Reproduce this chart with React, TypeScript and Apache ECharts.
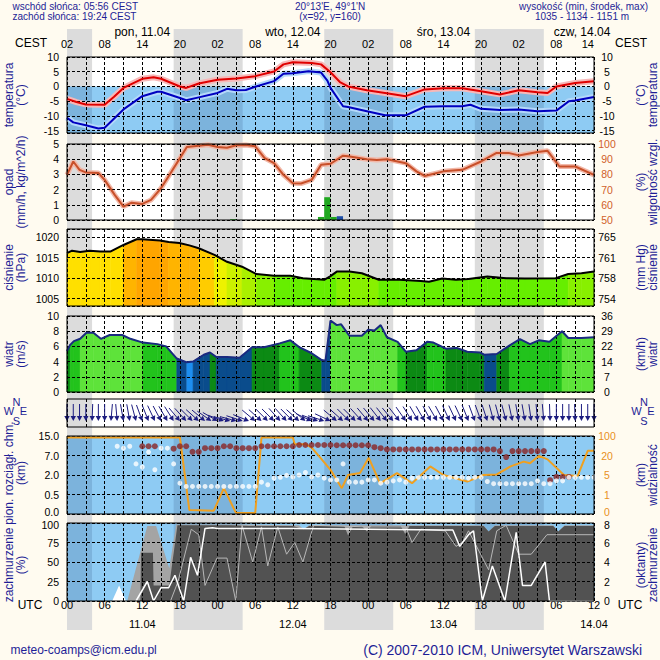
import React, { useEffect, useRef } from "react";
import * as echarts from "echarts";

// ---------------- time frame ----------------
const T_MAX = 84; // hours from 11.04 00 UTC
const cestOffset = 2;
const nightStart = [0, 17, 41, 65];
const nightEnd = [4, 28, 52, 76];
const dayLabels = ["pon, 11.04", "wto, 12.04", "śro, 13.04", "czw, 14.04"];
const dateLabels = ["11.04", "12.04", "13.04", "14.04"];

// ---------------- temperature / dew point (°C) ----------------
const tempH = [0, 1.5, 3, 6, 7.5, 9, 12, 13.8, 15, 18, 19, 21, 24, 27, 30, 33, 34.5, 36, 39, 40.5, 42, 43.5, 44.8, 47.8, 50.7, 54, 57, 60, 63, 66, 69, 72, 75, 76.6, 78, 81, 84];
const tempV = [-4.2, -5.3, -6.1, -6.2, -3.5, -0.5, 2.6, 3.1, 2.6, 0, -0.5, 1, 2.3, 2.7, 3.5, 5.1, 7.5, 8.2, 8, 7.5, 4.8, 1.5, 0, -1.3, -2.2, -3.3, -1, -0.6, -0.6, -1.6, -2.7, -1.3, -2, -2.2, 0, 1.2, 1.8];
const dewH = [0, 1, 3, 5, 6, 9, 12, 14.4, 15, 18, 19, 21, 24, 25.5, 27, 28.5, 30, 33, 34.5, 36, 38.5, 40.5, 41.5, 42, 44, 44.8, 47.8, 50.7, 54, 57, 60, 63, 64.3, 66, 69, 72, 75, 78, 80, 81, 84];
const dewV = [-10.6, -12.2, -13.2, -14.3, -14, -7.8, -3.3, -1.8, -1.8, -3.9, -4.7, -3.7, -2.2, -0.8, -1.3, -1.2, -0.1, 1.8, 4.3, 4.5, 5.2, 4.7, 2, -0.5, -6.7, -7, -8.4, -9.8, -9.8, -6.9, -6.7, -6.7, -6.2, -7.6, -8, -7.8, -8.4, -8.2, -5, -4.8, -3.6];

// ---------------- humidity (%) and precipitation (mm/h) ----------------
const humH = [0, 1, 2, 3, 5, 6, 7.6, 9, 10.3, 12, 13.4, 15, 16.5, 18, 19.1, 21, 22.5, 24, 25.5, 27, 28.5, 30, 31.5, 33, 34.5, 36, 37.3, 39, 40.5, 42, 44, 44.8, 47.8, 49.4, 51, 54, 55.7, 57, 60, 63, 66, 68.4, 70.5, 72, 75, 76.6, 78.5, 81, 84];
const humV = [79.7, 88.5, 83, 81.3, 81, 76.4, 66.5, 58.8, 61.4, 60.6, 63.2, 71, 80.8, 90.7, 98, 98.9, 99.5, 98, 97.5, 99.2, 99.4, 98.5, 90.7, 87.4, 79.7, 74.2, 74, 76.4, 86.3, 87, 92.3, 92, 90, 89.5, 90, 87.4, 82, 79, 82, 83, 88.5, 94, 94, 92.5, 94.7, 95.5, 85.2, 85.2, 79.7];
const rainH = [26, 40, 41, 42];
const rainV = [0.05, 0.2, 1.5, 0.2];
const snowH = [43];
const snowV = [0.25];

// ---------------- pressure (hPa) ----------------
const pressH = [0, 0.8, 2.1, 3.6, 5.3, 6.9, 9, 11.1, 12, 14.8, 16.2, 17.9, 19.5, 21, 23.5, 25.5, 27.9, 30.2, 33, 35.6, 37.6, 41, 42, 43, 45, 47, 49.7, 53, 56.4, 57.7, 59.8, 62, 64, 67, 70, 73, 77.9, 79.9, 82, 84];
const pressV = [1016.1, 1016.7, 1016.4, 1016.7, 1016.5, 1016.5, 1018.1, 1019.5, 1019.5, 1019.2, 1018.8, 1018.6, 1018, 1017.3, 1015.7, 1014, 1012.8, 1011, 1010.6, 1010.6, 1010, 1009.6, 1010.5, 1011.6, 1011.6, 1011.2, 1009.6, 1009.6, 1009.3, 1009.1, 1009.9, 1009.6, 1009.8, 1010.4, 1010, 1009.9, 1010, 1011, 1011.2, 1011.6];
const pressStops = [1011, 1012, 1013, 1015, 1016, 1017, 1018, 1019];
const pressColors = ["#66ee00", "#88f000", "#aaf000", "#ccf000", "#eef200", "#ffe000", "#ffcc00", "#ffb400", "#ffa500"];

// ---------------- wind speed (m/s) ----------------
const windH = [0, 0.5, 1.1, 2.1, 3.1, 4.2, 5.4, 6.8, 8.8, 10.1, 12.1, 14.4, 15.8, 17.5, 19.1, 20.1, 21.8, 22.8, 23.8, 25.5, 27.5, 29.5, 31.4, 33.9, 35.6, 37, 39, 40.6, 41.2, 42, 43, 43.7, 45, 47, 48, 49, 50, 51, 52.7, 54, 55.7, 57.4, 58.4, 60.4, 62.1, 63.8, 65.8, 66.5, 68.5, 70.5, 72.2, 73.8, 75.2, 76.9, 78.9, 79.9, 82, 84];
const windV = [5.4, 6.2, 6.7, 7.0, 7.8, 7.8, 7.0, 7.5, 7.5, 7.0, 6.5, 6.3, 6.0, 4.4, 3.9, 4.0, 4.9, 5.2, 4.6, 4.6, 4.5, 5.9, 5.9, 6.4, 6.8, 5.9, 5.1, 4.2, 4.1, 9.4, 8.8, 8.9, 7.4, 7.4, 8.2, 8.1, 8.8, 7.2, 6.6, 5.3, 5.5, 6.6, 6.5, 5.7, 5.8, 5.3, 5.2, 4.9, 5.0, 6.1, 6.95, 6.3, 6.8, 6.6, 8.0, 7.1, 7.1, 7.2];
const windStops = [4, 5, 6, 7];
const windColors = ["#1e8ef0", "#0a4c8c", "#0c8a14", "#22c31c", "#5ee33a"];

// ---------------- wind direction (deg, from), hourly 0..84 ----------------
const windFrom = [
  0, 0, 0, 0, 2, 0, 0, 5,
  355, 350, 350, 345,
  340, 338, 335, 332, 330, 328,
  320, 318, 315, 312, 310, 305, 300,
  290, 285, 285, 288, 292,
  310, 312, 315, 315, 318, 318, 315, 312, 310,
  295, 290, 288, 295,
  310, 312, 315, 315, 318, 320, 320, 322, 322, 320, 322,
  325, 328, 330, 330, 332, 330, 332, 335, 335, 335,
  338, 340, 340, 342, 345, 345, 345, 348, 350, 350,
  352, 355, 355, 358, 0, 0, 0, 358, 0, 0, 0,
];

// ---------------- cloud base/top (km) and visibility (km) ----------------
const heightTicks = [0, 0.5, 2, 7, 15];
const heightLabels = ["0.0", "0.5", "2.0", "7.0", "15.0"];
const visTicks = [0, 1, 5, 20, 100];
const visLabels = ["0", "1", "5", "20", "100"];
const topH = [12, 13, 14, 17, 18, 19, 20, 21, 22, 23, 24, 25, 26, 27, 28, 29, 30, 31, 32, 33, 34, 35, 36, 37, 38, 39, 40, 41, 42, 43, 44, 45, 46, 47, 48, 49, 50, 51, 52, 53, 54, 55, 56, 57, 58, 59, 60, 61, 62, 63, 64, 65, 66, 67, 68, 69, 70, 71, 72, 73, 74, 75, 76, 77, 78, 79, 80];
const topKm = [10.8, 10.8, 10.8, 9.8, 10.8, 10.8, 8.5, 8.5, 10.0, 10.0, 10.0, 10.8, 10.8, 10.0, 10.0, 10.0, 10.0, 10.8, 10.8, 10.8, 10.8, 10.8, 10.8, 11.3, 11.3, 11.3, 11.3, 11.3, 11.3, 11.2, 11.2, 11.2, 11.2, 11.2, 11.2, 10.4, 10.0, 9.5, 9.5, 9.5, 9.5, 9.5, 9.5, 9.5, 9.5, 9.5, 9.5, 9.5, 9.5, 9.5, 9.5, 9.5, 9.5, 9.5, 9.5, 8.8, 6.6, 8.8, 8.8, 8.8, 8.8, 8.8, 8.8, 1.6, 1.85, 1.85, 1.85];
const baseH = [8, 9, 10, 11, 12, 13, 14, 15, 16, 17, 18, 19, 20, 21, 22, 23, 24, 25, 26, 27, 28, 29, 30, 31, 32, 33, 34, 35, 36, 37, 38, 39, 40, 41, 42, 43, 44, 45, 46, 47, 48, 49, 50, 51, 52, 53, 54, 55, 56, 57, 58, 59, 60, 61, 62, 63, 64, 65, 66, 67, 68, 69, 70, 71, 72, 73, 74, 75, 76, 77, 78, 79, 80, 81, 82, 83, 84];
const baseKm = [10.8, 10.0, 10.8, 4.85, 4.05, 8.4, 3.35, 10.0, 10.0, 4.85, 1.37, 1.12,
  1.12, 1.12, 1.12, 1.12, 1.12, 1.12, 1.12, 1.12, 1.12, 1.12, 1.12,
  1.45, 1.25, 1.76, 1.82, 1.97, 1.85, 2.0, 2.65, 1.85, 2.0, 1.76, 1.62,
  1.62, 4.85, 1.45, 1.45, 1.45, 1.62, 1.62, 1.37, 1.45, 1.55, 1.62, 1.45, 1.76,
  1.82, 1.82, 1.82, 1.82, 1.82, 1.82, 1.82, 1.82, 1.76, 1.82, 1.82,
  1.5, 1.33, 1.33, 1.33, 1.33, 1.33, 1.33, 1.33, 1.55, 1.33, 1.33, 1.55, 1.55, 1.82, 1.82, 1.82, 1.82, 1.82];
const visH = [0, 18, 19.5, 21, 23.4, 25, 26.9, 30, 31, 36, 36.3, 38.1, 39, 40.4, 42, 43.8, 44.8, 46.7, 48.1, 49.9, 52.6, 55, 57.9, 60, 63.8, 66.4, 68.5, 70.7, 72.8, 73.8, 75.2, 76.6, 79.2, 81.4, 83, 84];
const visKm = [94, 94, 0.2, 0.19, 0.17, 2.3, 0.07, 0.05, 94, 94, 66, 66, 52, 18.2, 9, 2.3, 5, 6.5, 18.2, 3.3, 6.5, 3.3, 11.6, 5, 3.65, 5, 5.45, 11.6, 15.3, 14, 19.7, 17, 5, 4.8, 39, 39];

// ---------------- cloud cover (%) ----------------
const lightCloudH = [0, 9.6, 12.8, 14.2, 16.3, 17.4, 28, 37, 37.7, 38.6, 60, 66.4, 67.2, 68.2, 77.5, 78.3, 79.3, 84];
const lightCloudV = [0, 0, 96, 96, 42, 98, 98, 97, 92, 97, 97, 97, 89, 97, 97, 89, 97, 97];
const darkCloudH = [0, 11.7, 11.8, 13.7, 13.8, 16.3, 17.6, 26, 29, 36, 37.7, 38.6, 44.2, 44.8, 45.6, 47, 47.8, 48.5, 53.2, 53.9, 54.6, 66.4, 67.2, 68.2, 77.5, 78.3, 79.3, 84];
const darkCloudV = [0, 0, 62, 62, 20, 20, 97, 97, 96, 96, 92, 96, 96, 84, 96, 96, 89, 96, 96, 86, 96, 96, 89, 96, 96, 89, 96, 96];
const whiteCloudH = [7.2, 8.3, 9.4];
const whiteCloudV = [0, 20, 0];
const whiteLineH = [11, 12.8, 13.8, 15, 16.2, 17.2, 18.6, 19.7, 20.8, 22, 23.2, 24, 36, 48, 60, 61.5, 62.6, 64, 64.8, 66.2, 67.8, 69.8, 71.6, 72.6, 74, 76.2, 76.9, 84];
const whiteLineV = [0, 25, 0, 17, 17, 33, 0, 56, 33, 93, 94, 93, 93, 92, 91, 91, 70, 85, 90, 0, 45, 0, 88, 20, 20, 50, 0, 0];
const grayLineH = [16.5, 17.7, 19.8, 21, 22, 23.9, 25.5, 26.9, 27.9, 29.6, 31, 32, 33.6, 35, 36.3, 37.6, 39.3, 48, 54, 55, 56.4, 60.3, 62, 63, 64, 67.2, 68.5, 70, 72, 74, 76.5, 78, 84];
const grayLineV = [0, 25, 92, 85, 20, 55, 55, 0, 97, 50, 95, 45, 95, 60, 75, 50, 97, 95, 95, 75, 92, 90, 70, 75, 90, 40, 90, 97, 60, 60, 85, 85, 85];

// ---------------- styling ----------------
const FONT = "'Liberation Sans', Arial, sans-serif";
const CREAM = "#fffbf0";
const NAVY = "#1e1e96";
const NIGHT_GRAY = "#dcdcdc";
const BLUE_DAY = "#8ecbf3";
const BLUE_NIGHT = "#7cb3dc";
const L = 67;
const R = 66;
const PANELS = [
  { top: 57, h: 76 },
  { top: 144, h: 76 },
  { top: 229, h: 77 },
  { top: 316, h: 76 },
  { top: 399, h: 28 },
  { top: 436, h: 78 },
  { top: 523, h: 78 },
];
// label nudges for tightly stacked end labels
const RICH_NUDGE = {
  up: { padding: [0, 0, 4, 0] },
  down: { padding: [4, 0, 0, 0] },
};

const zip = (h: number[], v: number[]) => h.map((x, i) => [x, v[i]]);
const toAxis = (v: number, ticks: number[]) => {
  for (let i = 0; i < ticks.length - 1; i++) {
    if (v <= ticks[i + 1]) return i + (v - ticks[i]) / (ticks[i + 1] - ticks[i]);
  }
  return ticks.length - 1;
};
const stepColor = (v: number, stops: number[], colors: string[]) => {
  let i = 0;
  while (i < stops.length && v >= stops[i]) i++;
  return colors[i];
};
const pad2 = (n: number) => String(n).padStart(2, "0");

function daySegments() {
  const segs: number[][] = [];
  let t = 0;
  for (let i = 0; i < nightStart.length; i++) {
    if (nightStart[i] > t) segs.push([t, nightStart[i], 0]);
    segs.push([nightStart[i], nightEnd[i], 1]);
    t = nightEnd[i];
  }
  if (t < T_MAX) segs.push([t, T_MAX, 0]);
  return segs;
}

function xAx(gridIndex: number) {
  return {
    type: "value", gridIndex, min: 0, max: T_MAX, interval: 3, z: 5,
    axisLine: { show: false }, axisTick: { show: false }, axisLabel: { show: false },
    splitLine: { show: true, lineStyle: { color: "#000", type: [3, 2], width: 1 } },
  };
}

function yAx(gridIndex: number, min: number, max: number, step: number, side: string, o: any = {}) {
  const color = o.color || "#000";
  return {
    type: "value", gridIndex, min, max, minInterval: step, maxInterval: step, position: side, z: 5,
    show: o.show !== false,
    axisLine: { show: false }, axisTick: { show: false },
    splitLine: side === "left" ? { show: true, lineStyle: { color: "#000", type: [3, 2], width: 1 } } : { show: false },
    axisLabel: {
      show: true, fontSize: 10.5, lineHeight: 9, fontFamily: FONT, color,
      margin: side === "left" ? 8 : 13, align: side === "left" ? "right" : "center",
      showMinLabel: o.showMin !== false, showMaxLabel: o.showMax !== false,
      rich: {
        up: { ...RICH_NUDGE.up, fontSize: 10.5, lineHeight: 9, fontFamily: FONT, color },
        down: { ...RICH_NUDGE.down, fontSize: 10.5, lineHeight: 9, fontFamily: FONT, color },
      },
      formatter: (v: number) => {
        const s = o.fmt ? o.fmt(v) : String(v);
        if (o.nudgeMin && v === min) return `{up|${s}}`;
        if (o.nudgeMax && v === max) return `{down|${s}}`;
        return s;
      },
    },
  };
}

function bgSeries(p: number, kind: string) {
  return {
    type: "custom", xAxisIndex: p, yAxisIndex: 2 * p, z: 1, silent: true,
    data: daySegments(),
    renderItem: (params: any, api: any) => {
      const cs = params.coordSys;
      const x0 = api.coord([api.value(0), 0])[0];
      const x1 = api.coord([api.value(1), 0])[0];
      const night = api.value(2) === 1;
      const w = x1 - x0 + 0.6;
      if (kind === "temp") {
        const y0 = api.coord([0, 0])[1];
        return {
          type: "group", children: [
            { type: "rect", shape: { x: x0, y: cs.y, width: w, height: y0 - cs.y }, style: { fill: night ? NIGHT_GRAY : "#fff" } },
            { type: "rect", shape: { x: x0, y: y0, width: w, height: cs.y + cs.height - y0 }, style: { fill: night ? BLUE_NIGHT : BLUE_DAY } },
          ],
        };
      }
      const fill = kind === "blue" ? (night ? BLUE_NIGHT : BLUE_DAY) : (night ? NIGHT_GRAY : "#fff");
      return { type: "rect", shape: { x: x0, y: cs.y, width: w, height: cs.height }, style: { fill } };
    },
  };
}

function fillSeries(p: number, hs: number[], vs: number[], stops: number[], colors: string[]) {
  return {
    type: "custom", xAxisIndex: p, yAxisIndex: 2 * p, z: 2, silent: true,
    data: hs.slice(0, -1).map((h, i) => [h, vs[i], hs[i + 1], vs[i + 1]]),
    renderItem: (params: any, api: any) => {
      const cs = params.coordSys;
      const base = cs.y + cs.height;
      const a = api.coord([api.value(0), api.value(1)]);
      const b = api.coord([api.value(2), api.value(3)]);
      const c = stepColor(api.value(1), stops, colors);
      return {
        type: "polygon",
        shape: { points: [[a[0], base], [a[0], a[1]], [b[0], b[1]], [b[0], base]] },
        style: { fill: c, stroke: c, lineWidth: 0.6 },
      };
    },
  };
}

function lineS(x: number, y: number, data: number[][], color: string, width: number, z: number, extra: any = {}) {
  return {
    type: "line", xAxisIndex: x, yAxisIndex: y, data, showSymbol: false, symbol: "none", silent: true,
    lineStyle: { color, width }, z, ...extra,
  };
}

function areaS(x: number, y: number, data: number[][], color: string, z: number) {
  return {
    type: "line", xAxisIndex: x, yAxisIndex: y, data, showSymbol: false, symbol: "none", silent: true,
    lineStyle: { width: 0, color }, areaStyle: { color, opacity: 1 }, z,
  };
}

function txt(x: number, y: number, text: string, o: any = {}) {
  return {
    type: "text", x, y, rotation: o.rot || 0, silent: true, z: 50,
    style: {
      text, fill: o.color || NAVY, fontSize: o.size || 12, fontFamily: FONT,
      align: o.align || "left", verticalAlign: "middle", lineHeight: o.lh || 12,
    },
  };
}

function buildOption() {
  const grids: any[] = PANELS.map((p) => ({
    left: L, right: R, top: p.top, height: p.h, show: true,
    borderColor: "#000", borderWidth: 1, backgroundColor: "transparent", z: 9, outerBoundsMode: "none",
  }));
  grids.push({ left: L, right: R, top: 29, height: 601, show: false, outerBoundsMode: "none" });

  const xAxes: any[] = PANELS.map((_, i) => xAx(i));
  xAxes.push({ type: "value", gridIndex: 7, min: 0, max: T_MAX, show: false });
  const labelAxisBase = { type: "value", min: 0, max: T_MAX, z: 5, axisLine: { show: false }, axisTick: { show: false }, splitLine: { show: false } };
  xAxes.push({
    ...labelAxisBase, gridIndex: 0, position: "top", interval: 6,
    axisLabel: { fontSize: 11, lineHeight: 10, fontFamily: FONT, color: "#000", margin: 8, alignMaxLabel: "right", formatter: (v: number) => pad2((v + cestOffset) % 24) },
  });
  xAxes.push({
    ...labelAxisBase, gridIndex: 0, position: "top", interval: 12,
    axisLabel: {
      fontSize: 12, lineHeight: 11, fontFamily: FONT, color: "#000", margin: 20,
      rich: { r: { fontSize: 12, lineHeight: 11, fontFamily: FONT, color: "#000", padding: [0, 24, 0, 0] } },
      formatter: (v: number) => {
        const k = (v - 12) / 24;
        if (Number.isInteger(k) && k >= 0 && k < dayLabels.length) return k === dayLabels.length - 1 ? `{r|${dayLabels[k]}}` : dayLabels[k];
        return "";
      },
    },
  });
  xAxes.push({
    ...labelAxisBase, gridIndex: 6, position: "bottom", interval: 6,
    axisLabel: { fontSize: 11, lineHeight: 10, fontFamily: FONT, color: "#000", margin: -1, formatter: (v: number) => pad2(v % 24) },
  });
  xAxes.push({
    ...labelAxisBase, gridIndex: 6, position: "bottom", interval: 12,
    axisLabel: {
      fontSize: 11, lineHeight: 10, fontFamily: FONT, color: "#000", margin: 18,
      formatter: (v: number) => {
        const k = (v - 12) / 24;
        return Number.isInteger(k) && k >= 0 && k < dateLabels.length ? dateLabels[k] : "";
      },
    },
  });

  const yAxes: any[] = [
    yAx(0, -15.8, 10, 5, "left", { showMin: false }),
    yAx(0, -15.8, 10, 5, "right", { showMin: false }),
    yAx(1, 0, 5, 1, "left"),
    yAx(1, 50, 100, 10, "right", { color: "#d0602a" }),
    yAx(2, 1003.2, 1022, 5, "left", { showMin: false, showMax: false }),
    yAx(2, 1003.2, 1022, 5, "right", { showMin: false, showMax: false, fmt: (v: number) => String(Math.round(v * 0.750062)) }),
    yAx(3, 0, 10, 2, "left"),
    yAx(3, 0, 10, 2, "right", { fmt: (v: number) => String(Math.round(v * 3.6)) }),
    yAx(4, 0, 28, 28, "left", { show: false }),
    yAx(4, 0, 28, 28, "right", { show: false }),
    yAx(5, 0, 4, 1, "left", { nudgeMin: true, fmt: (v: number) => heightLabels[Math.round(v)] }),
    yAx(5, 0, 4, 1, "right", { nudgeMin: true, color: "#e8901c", fmt: (v: number) => visLabels[Math.round(v)] }),
    yAx(6, 0, 100, 25, "left", { nudgeMax: true }),
    yAx(6, 0, 100, 25, "right", { nudgeMax: true, fmt: (v: number) => String(v / 12.5) }),
    { type: "value", gridIndex: 7, min: 0, max: 1, show: false },
  ];

  const series: any[] = [];
  // full-height night columns
  series.push({
    type: "custom", xAxisIndex: 7, yAxisIndex: 14, z: 0, silent: true,
    data: nightStart.map((s, i) => [s, nightEnd[i]]),
    renderItem: (params: any, api: any) => {
      const cs = params.coordSys;
      const x0 = api.coord([api.value(0), 0])[0];
      const x1 = api.coord([api.value(1), 0])[0];
      return { type: "rect", shape: { x: x0, y: cs.y, width: x1 - x0, height: cs.height }, style: { fill: NIGHT_GRAY } };
    },
  });
  series.push(bgSeries(0, "temp"));
  series.push(bgSeries(1, "white"));
  series.push(bgSeries(2, "white"));
  series.push(bgSeries(3, "white"));
  series.push(bgSeries(4, "white"));
  series.push(bgSeries(5, "blue"));
  series.push(bgSeries(6, "blue"));

  // temperature
  series.push(lineS(0, 0, zip(tempH, tempV), "#f7b8b8", 6, 3));
  series.push(lineS(0, 0, zip(dewH, dewV), "#b4d8fa", 6, 3));
  series.push(lineS(0, 0, zip(tempH, tempV), "#e00000", 2, 8));
  series.push(lineS(0, 0, zip(dewH, dewV), "#0000c0", 2, 8));

  // precipitation bars
  const precipData = [
    ...rainH.map((h, i) => [h, rainV[i], 0]),
    ...snowH.map((h, i) => [h, snowV[i], 1]),
  ];
  series.push({
    type: "custom", xAxisIndex: 1, yAxisIndex: 2, z: 3, silent: true, data: precipData,
    renderItem: (params: any, api: any) => {
      const a = api.coord([api.value(0), api.value(1)]);
      const b = api.coord([api.value(0) + 1, 0]);
      return { type: "rect", shape: { x: a[0], y: a[1], width: b[0] - a[0], height: b[1] - a[1] }, style: { fill: api.value(2) === 1 ? "#2050a8" : "#1fa81f" } };
    },
  });
  // humidity
  series.push(lineS(1, 3, zip(humH, humV), "#f2b8a8", 5, 3));
  series.push(lineS(1, 3, zip(humH, humV), "#c8502a", 2, 8));

  // pressure
  series.push(fillSeries(2, pressH, pressV, pressStops, pressColors));
  series.push(lineS(2, 4, zip(pressH, pressV), "#000", 2, 8));

  // wind speed
  series.push(fillSeries(3, windH, windV, windStops, windColors));
  series.push(lineS(3, 6, zip(windH, windV), "#1a2a80", 2, 8));

  // wind direction arrows
  series.push({
    type: "custom", xAxisIndex: 4, yAxisIndex: 8, z: 8, silent: true,
    data: windFrom.map((d, i) => [i, d]),
    renderItem: (params: any, api: any) => {
      const tip = api.coord([api.value(0), 6]);
      const ang = ((api.value(1) + 180) * Math.PI) / 180;
      const dx = Math.sin(ang), dy = -Math.cos(ang);
      const len = 17, hl = 5, hw = 2.7;
      const bx = tip[0] - dx * hl, by = tip[1] - dy * hl;
      const px = -dy, py = dx;
      return {
        type: "group", children: [
          { type: "line", shape: { x1: tip[0] - dx * len, y1: tip[1] - dy * len, x2: bx, y2: by }, style: { stroke: "#1c1c80", lineWidth: 1 } },
          { type: "polygon", shape: { points: [[tip[0], tip[1]], [bx + px * hw, by + py * hw], [bx - px * hw, by - py * hw]] }, style: { fill: "#1c1c80" } },
        ],
      };
    },
  });

  // cloud height / visibility
  series.push(lineS(5, 10, visH.map((h, i) => [h, toAxis(visKm[i], visTicks)]), "#f0a020", 2, 7));
  series.push({
    type: "scatter", xAxisIndex: 5, yAxisIndex: 10, z: 8, silent: true, symbolSize: 6,
    itemStyle: { color: "#8b2525" }, data: topH.map((h, i) => [h, toAxis(topKm[i], heightTicks)]),
  });
  series.push({
    type: "scatter", xAxisIndex: 5, yAxisIndex: 10, z: 8, silent: true, symbolSize: 5,
    itemStyle: { color: "#ffffff" }, data: baseH.map((h, i) => [h, toAxis(baseKm[i], heightTicks)]),
  });

  // cloud cover
  series.push(areaS(6, 12, zip(lightCloudH, lightCloudV), "#a4a4a4", 2));
  series.push(areaS(6, 12, zip(darkCloudH, darkCloudV), "#525252", 3));
  series.push(areaS(6, 12, zip(whiteCloudH, whiteCloudV), "#ffffff", 3));
  series.push(lineS(6, 12, zip(grayLineH, grayLineV), "#b8b8b8", 1, 8));
  series.push(lineS(6, 12, zip(whiteLineH, whiteLineV), "#ffffff", 1.5, 8));

  // texts
  const mid = (i: number) => PANELS[i].top + PANELS[i].h / 2;
  const leftNames = [
    ["temperatura\n(°C)", mid(0)],
    ["opad\n(mm/h, kg/m^2/h)", mid(1)],
    ["ciśnienie\n(hPa)", mid(2)],
    ["wiatr\n(m/s)", mid(3)],
    ["pion. rozciągł. chm.\n(km)", mid(5) - 2],
    ["zachmurzenie\n(%)", mid(6) + 3],
  ];
  const rightNames = [
    ["(°C)\ntemperatura", mid(0)],
    ["(%)\nwilgotność wzgl.", mid(1)],
    ["(mm Hg)\nciśnienie", mid(2)],
    ["(km/h)\nwiatr", mid(3)],
    ["(km)\nwidzialność", mid(5)],
    ["(oktanty)\nzachmurzenie", mid(6) + 3],
  ];
  const elements: any[] = [
    txt(12.5, 6, "wschód słońca: 05:56 CEST", { size: 10 }),
    txt(12.5, 16, "zachód słońca: 19:24 CEST", { size: 10 }),
    txt(330, 6, "20°13'E, 49°1'N", { size: 10, align: "center" }),
    txt(330, 16, "(x=92, y=160)", { size: 10, align: "center" }),
    txt(648, 6, "wysokość (min, środek, max)", { size: 10, align: "right" }),
    txt(582, 16, "1035 - 1134 - 1151 m", { size: 10, align: "center" }),
    txt(31, 43, "CEST", { color: "#000", align: "center" }),
    txt(631, 43, "CEST", { color: "#000", align: "center" }),
    txt(30, 605, "UTC", { color: "#000", align: "center" }),
    txt(630, 605, "UTC", { color: "#000", align: "center" }),
    txt(10.5, 650, "meteo-coamps@icm.edu.pl", { size: 12 }),
    txt(642, 650, "(C) 2007-2010 ICM, Uniwersytet Warszawski", { size: 14, align: "right" }),
  ];
  leftNames.forEach(([t, y]) => elements.push(txt(15, y as number, t as string, { rot: Math.PI / 2, align: "center" })));
  rightNames.forEach(([t, y]) => elements.push(txt(647, y as number, t as string, { rot: Math.PI / 2, align: "center" })));
  const compass = (cx: number) => [
    txt(cx, 401.5, "N", { size: 11, align: "center", lh: 9 }),
    txt(cx - 7.5, 411, "W", { size: 11, align: "center", lh: 9 }),
    txt(cx + 7, 411, "E", { size: 11, align: "center", lh: 9 }),
    txt(cx, 420.5, "S", { size: 11, align: "center", lh: 9 }),
  ];
  elements.push(...compass(16.5), ...compass(644));

  return {
    animation: false,
    backgroundColor: CREAM,
    grid: grids,
    xAxis: xAxes,
    yAxis: yAxes,
    series,
    graphic: { elements },
  };
}

export default function App() {
  const ref = useRef<HTMLDivElement>(null);
  useEffect(() => {
    const chart = echarts.init(ref.current as HTMLDivElement, null, { renderer: "svg" });
    chart.setOption(buildOption() as any);
    return () => chart.dispose();
  }, []);
  return <div ref={ref} style={{ position: "absolute", left: 0, top: 0, width: 660, height: 660, background: CREAM }} />;
}
